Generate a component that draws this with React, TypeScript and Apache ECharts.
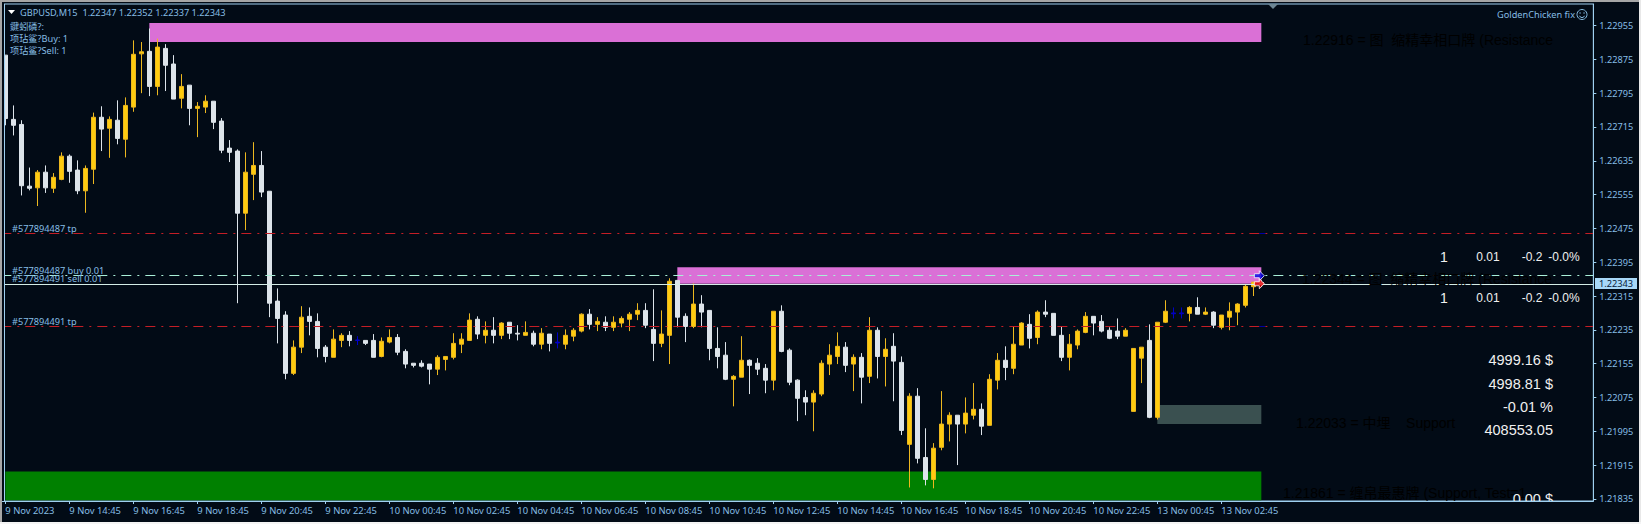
import React, { useEffect, useRef } from "react";
import * as echarts from "echarts";

const BG = "#020b16";
const AXIS = "#9fd0f0";
const LABEL = "#86bde4";

// Each row: open, close, low, high in 1/100000 of a price unit
const candles: number[][] = [
  [122885,122735,122719,122885],[122733,122719,122695,122766],[122721,122576,122553,122731],[122575,122570,122565,122619],
  [122571,122608,122528,122613],[122608,122571,122559,122624],[122570,122596,122559,122606],[122591,122646,122589,122655],
  [122646,122610,122583,122650],[122613,122564,122556,122636],[122564,122617,122512,122624],[122615,122738,122580,122749],
  [122738,122710,122658,122764],[122712,122733,122642,122740],[122731,122688,122674,122778],[122686,122766,122643,122785],
  [122762,122887,122751,122920],[122888,122893,122795,122916],[122894,122811,122788,122948],[122811,122904,122790,122924],
  [122901,122861,122800,122911],[122864,122781,122781,122885],[122783,122811,122759,122840],[122814,122759,122719,122814],
  [122759,122764,122691,122774],[122762,122776,122748,122790],[122776,122726,122710,122776],[122729,122660,122653,122736],
  [122665,122655,122632,122684],[122658,122511,122298,122662],[122511,122608,122471,122655],[122603,122624,122542,122679],
  [122624,122561,122549,122658],[122563,122298,122265,122563],[122303,122262,122203,122333],[122270,122132,122118,122279],
  [122132,122194,122128,122210],[122194,122265,122180,122291],[122267,122255,122222,122288],[122255,122191,122170,122274],
  [122194,122172,122158,122199],[122170,122213,122170,122236],[122210,122222,122194,122227],[122222,122210,122196,122232],
  [122211,122210,122199,122220],[122210,122203,122199,122210],[122210,122170,122170,122225],[122172,122208,122170,122217],
  [122206,122217,122203,122236],[122217,122182,122175,122225],[122184,122154,122144,122189],[122156,122151,122146,122156],
  [122156,122149,122146,122163],[122154,122142,122106,122154],[122142,122170,122128,122175],[122165,122172,122139,122172],
  [122170,122203,122165,122227],[122201,122213,122180,122227],[122210,122258,122210,122274],[122260,122225,122213,122267],
  [122222,122234,122203,122255],[122234,122222,122203,122265],[122222,122251,122213,122253],[122253,122227,122213,122253],
  [122227,122225,122210,122246],[122222,122229,122222,122255],[122227,122201,122196,122233],[122201,122227,122189,122239],
  [122225,122203,122184,122225],[122206,122204,122191,122229],[122201,122222,122189,122236],[122220,122234,122208,122239],
  [122232,122272,122229,122274],[122272,122248,122236,122284],[122248,122255,122232,122265],[122253,122241,122232,122267],
  [122241,122253,122232,122267],[122251,122262,122241,122267],[122260,122272,122232,122277],[122272,122281,122258,122298],
  [122281,122246,122239,122298],[122236,122203,122161,122331],[122203,122225,122194,122281],[122222,122350,122154,122357],
  [122352,122265,122241,122352],[122267,122243,122206,122274],[122243,122296,122239,122345],[122296,122277,122241,122317],
  [122281,122191,122163,122281],[122191,122172,122144,122241],[122175,122118,122116,122206],[122118,122125,122054,122128],
  [122123,122163,122123,122220],[122163,122151,122083,122165],[122156,122142,122128,122168],[122144,122116,122085,122154],
  [122116,122279,122092,122279],[122279,122184,122182,122293],[122187,122111,122104,122191],[122116,122073,122019,122118],
  [122075,122064,122033,122092],[122064,122085,121995,122092],[122083,122156,122078,122163],[122154,122175,122128,122201],
  [122172,122196,122154,122229],[122194,122151,122135,122206],[122154,122170,122090,122177],[122170,122123,122061,122180],
  [122125,122234,122109,122265],[122234,122172,122120,122241],[122172,122189,122101,122215],[122196,122161,122066,122227],
  [122158,121997,121986,122172],[121964,122078,121862,122085],[122078,121931,121919,122097],[121933,121881,121867,122002],
  [121881,121955,121860,121967],[121957,122012,121950,122090],[122012,122033,121971,122040],[122033,122012,121915,122033],
  [122012,122038,121990,122075],[122033,122047,122023,122109],[122047,122007,121986,122061],[122009,122118,122009,122130],
  [122116,122163,122094,122180],[122163,122146,122116,122196],[122144,122201,122130,122243],[122199,122251,122199,122253],
  [122248,122215,122191,122272],[122217,122277,122201,122281],[122277,122272,122265,122305],[122274,122222,122222,122274],
  [122222,122170,122161,122243],[122170,122201,122139,122225],[122199,122232,122189,122236],[122229,122267,122227,122277],
  [122267,122251,122222,122267],[122255,122232,122229,122270],[122234,122215,122213,122241],[122232,122220,122213,122262],
  [122220,122234,122220,122239],[122042,122191,122042,122191],[122168,122194,122109,122194],[122210,122028,122026,122248],
  [122028,122253,122023,122253],[122253,122279,122251,122305],[122275,122273,122262,122288],[122275,122273,122262,122288],
  [122274,122288,122255,122291],[122288,122272,122272,122312],[122272,122277,122270,122288],[122277,122246,122239,122279],
  [122241,122270,122236,122270],[122265,122279,122234,122300],[122277,122296,122246,122298],[122293,122338,122288,122343],
  [122337,122348,122315,122348],[122347,122343,122337,122352],
];
const dojiIndexes = [44, 69, 146, 147];

const tickLabels = [
  "9 Nov 2023", "9 Nov 14:45", "9 Nov 16:45", "9 Nov 18:45", "9 Nov 20:45", "9 Nov 22:45",
  "10 Nov 00:45", "10 Nov 02:45", "10 Nov 04:45", "10 Nov 06:45", "10 Nov 08:45", "10 Nov 10:45",
  "10 Nov 12:45", "10 Nov 14:45", "10 Nov 16:45", "10 Nov 18:45", "10 Nov 20:45", "10 Nov 22:45",
  "13 Nov 00:45", "13 Nov 02:45",
];
const priceTicks = [1.22955, 1.22875, 1.22795, 1.22715, 1.22635, 1.22555, 1.22475, 1.22395, 1.22315, 1.22235, 1.22155, 1.22075, 1.21995, 1.21915, 1.21835];
const SLOT_COUNT = 199;
const BARS_PER_TICK = 8;
const categories = Array.from({ length: SLOT_COUNT }, (_, i) => (i % BARS_PER_TICK === 0 ? tickLabels[i / BARS_PER_TICK] ?? "" : ""));

// [first bar, last bar, upper price, lower price, colour]
const zones: [number, number, number, number, string][] = [
  [18, 157, 1.22961, 1.22916, "#da70d6"],
  [84, 157, 1.22383, 1.22344, "#da70d6"],
  [0, 157, 1.219, 1.21832, "#008000"],
  [144, 157, 1.22057, 1.22012, "#3a5050"],
];
const tpLevels = [1.22463, 1.22243];
const buyLevel = 1.22363;
const sellLevel = 1.22344;

const SANS = "'Noto Sans','Noto Sans CJK SC',sans-serif";
const ARIAL = "'Liberation Sans','Noto Sans CJK SC',sans-serif";

function txt(text: string, x: number, y: number, fill: string, font: string, align = "left", z = 20) {
  return { type: "text", x, y, z, silent: true, style: { text, fill, font, textAlign: align, textVerticalAlign: "middle" } };
}

export default function App() {
  const ref = useRef<HTMLDivElement>(null);
  useEffect(() => {
    const chart = echarts.init(ref.current!, undefined, { renderer: "svg" });
    const GOLD = "#ffcc0f";
    const GOLD_EDGE = "#edb81f";
    const WHITE = "#dde4ea";
    const BLUE = "#0000c8";
    const small = `9.2px ${SANS}`;
    const big = `14.5px ${ARIAL}`;
    const mid = `12px ${ARIAL}`;
    const ghost = `14px ${ARIAL}`;
    chart.setOption({
      animation: false,
      backgroundColor: BG,
      grid: { left: 1.33, right: 47.67, top: 4, bottom: 23, show: true, backgroundColor: BG, borderColor: AXIS, borderWidth: 1 },
      xAxis: {
        type: "category",
        data: categories,
        boundaryGap: true,
        z: 30,
        axisLine: { lineStyle: { color: AXIS } },
        axisTick: { show: true, alignWithLabel: true, length: 3, lineStyle: { color: AXIS }, interval: (i: number) => i % BARS_PER_TICK === 0 && categories[i] !== "" },
        axisLabel: { color: LABEL, fontFamily: SANS, fontSize: 9.4, align: "left", margin: 5, interval: (i: number) => i % BARS_PER_TICK === 0 && categories[i] !== "", hideOverlap: false },
        splitLine: { show: false },
      },
      yAxis: {
        type: "value",
        position: "right",
        min: 1.2183,
        max: 1.23006,
        z: 30,
        axisLine: { show: true, lineStyle: { color: AXIS } },
        axisTick: { show: true, length: 3, lineStyle: { color: AXIS }, customValues: priceTicks },
        axisLabel: { color: LABEL, fontFamily: SANS, fontSize: 9.2, margin: 6, customValues: priceTicks, formatter: (v: number) => v.toFixed(5) },
        splitLine: { show: false },
      },
      series: [
        {
          type: "candlestick",
          barWidth: 4,
          z: 2,
          itemStyle: { color: GOLD, color0: WHITE, borderColor: GOLD_EDGE, borderColor0: WHITE, borderWidth: 1 },
          data: candles.map((row, i) => {
            const value = row.map((p) => p / 100000);
            return dojiIndexes.includes(i)
              ? { value, itemStyle: { color: BLUE, color0: BLUE, borderColor: BLUE, borderColor0: BLUE } }
              : { value };
          }),
          markArea: {
            silent: true,
            z: 1,
            data: zones.map(([a, b, top, bottom, color]) => [
              { xAxis: a, yAxis: top, itemStyle: { color, opacity: 1 } },
              { xAxis: b, yAxis: bottom },
            ]),
          },
          markLine: {
            silent: true,
            symbol: "none",
            z: 5,
            precision: 5,
            label: { show: false },
            data: [
              ...tpLevels.map((y) => ({ yAxis: y, lineStyle: { color: "#c41e26", width: 1, type: [10, 6, 2, 6] } })),
              { yAxis: buyLevel, lineStyle: { color: "#aaf0d8", width: 1, type: [10, 6, 2, 6] } },
              { yAxis: sellLevel, lineStyle: { color: "#d4ece6", width: 1, type: "solid" } },
            ],
          },
        },
        {
          type: "scatter",
          z: 6,
          silent: true,
          symbol: "path://M0,3 L5,3 L5,0 L10,5 L5,10 L5,7 L0,7 Z",
          symbolSize: 10,
          symbolOffset: [-2, 0],
          data: [
            { value: [157, buyLevel], itemStyle: { color: "#0000e6", borderColor: "#fff", borderWidth: 1 } },
            { value: [157, sellLevel], itemStyle: { color: "#e60000", borderColor: "#fff", borderWidth: 1 } },
            ...tpLevels.map((y) => ({ value: [157, y], symbol: "rect", symbolSize: [6, 1], symbolOffset: [1, 0], itemStyle: { color: "#0000c8" } })),
          ],
        },
      ],
      graphic: [
        // ghost texts, nearly invisible on the chart's background
        txt("1.22916 = 图  缩精幸相口牌 (Resistance", 1303, 40, "#000", ghost, "left", 7),
        txt("1.22344 = 图  缩精幸相口牌 (Resistance", 1302, 279, "#000", ghost, "left", 7),
        txt("1.22033 = 中埋    Support", 1296, 423, "#000", ghost, "left", 7),
        txt("1.21861 = 缠帛最惠牌 (Support, Test=1", 1283, 493, "#000", ghost, "left", 7),
        txt("0.00 $", 1553, 499, "#f0f0f0", big, "right", 7),
        // covers below the plot
        { type: "rect", z: 8, silent: true, shape: { x: 0, y: 501.5, width: 1593, height: 23 }, style: { fill: BG } },
        { type: "rect", z: 8, silent: true, shape: { x: 0, y: 0, width: 4, height: 524 }, style: { fill: BG } },
        { type: "line", z: 9, silent: true, shape: { x1: 4.5, y1: 4, x2: 4.5, y2: 501 }, style: { stroke: AXIS, lineWidth: 1 } },
        { type: "line", z: 9, silent: true, shape: { x1: 4, y1: 501.5, x2: 1593, y2: 501.5 }, style: { stroke: AXIS, lineWidth: 1 } },
        // window frame
        { type: "rect", z: 40, silent: true, shape: { x: 0, y: 0, width: 1641, height: 2 }, style: { fill: "#a6a6a6" } },
        { type: "rect", z: 40, silent: true, shape: { x: 0, y: 0, width: 2, height: 524 }, style: { fill: "#a6a6a6" } },
        { type: "rect", z: 40, silent: true, shape: { x: 1639, y: 0, width: 2, height: 524 }, style: { fill: "#e8e8e8" } },
        { type: "rect", z: 40, silent: true, shape: { x: 0, y: 522, width: 1641, height: 2 }, style: { fill: "#f4f4f4" } },
        // header
        { type: "polygon", z: 20, silent: true, shape: { points: [[8, 10], [15, 10], [11.5, 14]] }, style: { fill: "#ffffff" } },
        txt("GBPUSD,M15  1.22347 1.22352 1.22337 1.22343", 20, 12.5, LABEL, small),
        txt("鍵蚓磷?:", 10, 26, LABEL, small),
        txt("项玷鲨?Buy: 1", 10, 38, LABEL, small),
        txt("项玷鲨?Sell: 1", 10, 50, LABEL, small),
        // order labels
        txt("#577894487 tp", 12, 228, LABEL, small),
        txt("#577894487 buy 0.01", 12, 270, LABEL, small),
        txt("#577894491 sell 0.01", 12, 278, LABEL, small),
        txt("#577894491 tp", 12, 321, LABEL, small),
        // top right
        { type: "polygon", z: 20, silent: true, shape: { points: [[1268, 4], [1278, 4], [1273, 9]] }, style: { fill: "#6d8694" } },
        txt("GoldenChicken fix", 1575, 14, LABEL, small, "right"),
        { type: "circle", z: 20, silent: true, shape: { cx: 1582, cy: 14.5, r: 5 }, style: { fill: "none", stroke: LABEL, lineWidth: 1 } },
        { type: "circle", z: 20, silent: true, shape: { cx: 1580, cy: 13, r: 0.7 }, style: { fill: LABEL } },
        { type: "circle", z: 20, silent: true, shape: { cx: 1584, cy: 13, r: 0.7 }, style: { fill: LABEL } },
        { type: "arc", z: 20, silent: true, shape: { cx: 1582, cy: 15, r: 2.6, startAngle: 0.3, endAngle: 2.84 }, style: { fill: "none", stroke: LABEL, lineWidth: 1 } },
        // order table
        txt("1", 1444, 257, "#f0f0f0", `14px ${ARIAL}`, "center"),
        txt("0.01", 1488, 257, "#f0f0f0", mid, "center"),
        txt("-0.2", 1532, 257, "#f0f0f0", mid, "center"),
        txt("-0.0%", 1564, 257, "#f0f0f0", mid, "center"),
        txt("1", 1444, 298, "#f0f0f0", `14px ${ARIAL}`, "center"),
        txt("0.01", 1488, 298, "#f0f0f0", mid, "center"),
        txt("-0.2", 1532, 298, "#f0f0f0", mid, "center"),
        txt("-0.0%", 1564, 298, "#f0f0f0", mid, "center"),
        // account figures
        txt("4999.16 $", 1553, 360, "#f0f0f0", big, "right"),
        txt("4998.81 $", 1553, 384, "#f0f0f0", big, "right"),
        txt("-0.01 %", 1553, 407, "#f0f0f0", big, "right"),
        txt("408553.05", 1553, 430, "#f0f0f0", big, "right"),
        // current price tag
        { type: "rect", z: 35, silent: true, shape: { x: 1595, y: 278, width: 42, height: 11 }, style: { fill: "#a8d8f8" } },
        txt("1.22343", 1599, 283.5, "#06203a", small, "left", 36),
      ],
    });
    return () => chart.dispose();
  }, []);
  return <div ref={ref} style={{ position: "fixed", left: 0, top: 0, width: 1641, height: 524 }} />;
}
